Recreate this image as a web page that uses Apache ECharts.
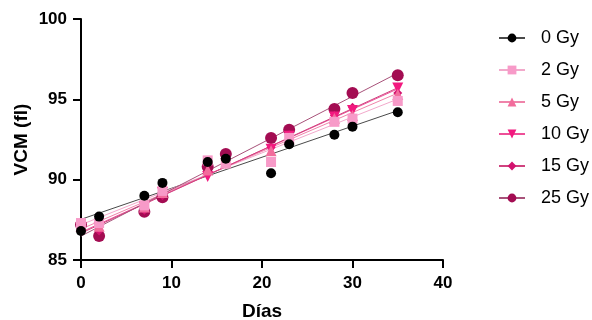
<!DOCTYPE html>
<html>
<head>
<meta charset="utf-8">
<script src="https://cdn.jsdelivr.net/npm/echarts@6/dist/echarts.min.js"></script>
<style>html,body{margin:0;padding:0;background:#fff}#c{width:592px;height:320px}</style>
</head>
<body>
<div id="c"></div>
<script>
const days = [0, 2, 7, 9, 14, 16, 21, 23, 28, 30, 35];
const seriesNames = ['0 Gy', '2 Gy', '5 Gy', '10 Gy', '15 Gy', '25 Gy'];
const gy0  = [86.8, 87.7, 89.0, 89.8, 91.1, 91.3, 90.4, 92.2, 92.8, 93.3, 94.2];
const gy2  = [87.3, 87.3, 88.4, 89.3, 91.2, 91.0, 91.1, 92.6, 93.6, 93.8, 94.9];
const gy5  = [87.1, 87.1, 88.3, 89.2, 90.6, 91.1, 91.8, 92.6, 93.8, 94.0, 95.3];
const gy10 = [87.0, 87.0, 88.3, 89.2, 90.2, 91.0, 91.9, 92.7, 93.9, 94.3, 95.7];
const gy15 = [87.0, 86.8, 88.1, 89.0, 90.4, 91.2, 92.0, 92.8, 94.0, 94.5, 95.4];
const gy25 = [87.2, 86.5, 88.0, 88.9, 90.8, 91.6, 92.6, 93.1, 94.4, 95.4, 96.5];
const xTicks = [0, 10, 20, 30, 40];
const yTicks = [85, 90, 95, 100];

const values = [gy0, gy2, gy5, gy10, gy15, gy25];
const markerColors = ['#000000', '#f79ac8', '#f26c9c', '#f2197f', '#d3136f', '#a30c52'];
const lineColors = ['#4a4a4a', '#f2a9cb', '#ef84aa', '#ee4f98', '#d0437f', '#a8527a'];
const symbols = ['circle', 'rect', 'triangle', 'path://M0,0 L10,0 L5,10 Z', 'diamond', 'circle'];
const sizes = [10, 10, 11, 11, 9, 12];

function fit(xs, ys) {
  const n = xs.length;
  let sx = 0, sy = 0, sxx = 0, sxy = 0;
  for (let i = 0; i < n; i++) { sx += xs[i]; sy += ys[i]; sxx += xs[i]*xs[i]; sxy += xs[i]*ys[i]; }
  const b = (n*sxy - sx*sy) / (n*sxx - sx*sx);
  const a = (sy - b*sx) / n;
  return [a, b];
}

const font = '"Liberation Sans", Arial, Helvetica, sans-serif';
const series = [];
for (let k = 0; k < seriesNames.length; k++) {
  const [a, b] = fit(days, values[k]);
  const x0 = days[0], x1 = days[days.length - 1];
  series.push({
    name: seriesNames[k], type: 'line',
    data: [[x0, a + b*x0], [x1, a + b*x1]],
    symbol: symbols[k], symbolSize: sizes[k], showSymbol: false,
    itemStyle: { color: markerColors[k] },
    lineStyle: { color: lineColors[k], width: 1 },
    z: 2, silent: true, animation: false
  });
}
for (let k = seriesNames.length - 1; k >= 0; k--) {
  series.push({
    name: seriesNames[k] + ' pts', type: 'scatter',
    data: days.map((d, i) => [d, values[k][i]]),
    symbol: symbols[k], symbolSize: sizes[k],
    itemStyle: { color: markerColors[k], opacity: 1 },
    z: 3 + (seriesNames.length - k), animation: false
  });
}

const chart = echarts.init(document.getElementById('c'), null, { renderer: 'canvas' });
chart.setOption({
  backgroundColor: '#ffffff',
  animation: false,
  grid: { left: 81, right: 149, top: 19, bottom: 60, containLabel: false, outerBoundsMode: 'none' },
  legend: {
    data: seriesNames,
    orient: 'vertical', left: 493, top: 24,
    itemWidth: 26, itemHeight: 11, itemGap: 14,
    textStyle: { fontFamily: font, fontSize: 18, color: '#000', padding: [0, 0, 0, 11] },
    selectedMode: false
  },
  xAxis: {
    type: 'value', min: xTicks[0], max: xTicks[xTicks.length - 1], interval: 10,
    name: 'Días', nameLocation: 'middle', nameGap: 42, nameMoveOverlap: false,
    nameTextStyle: { fontFamily: font, fontSize: 19, fontWeight: 'bold', color: '#000' },
    axisLine: { show: true, lineStyle: { color: '#000', width: 2 } },
    axisTick: { show: true, length: 8, lineStyle: { color: '#000', width: 2 } },
    axisLabel: { fontFamily: font, fontSize: 17, fontWeight: 'bold', color: '#000', margin: 15 },
    splitLine: { show: false }
  },
  yAxis: {
    type: 'value', min: yTicks[0], max: yTicks[yTicks.length - 1], interval: 5,
    name: 'VCM (fl)', nameLocation: 'middle', nameGap: 50, nameMoveOverlap: false,
    nameTextStyle: { fontFamily: font, fontSize: 19, fontWeight: 'bold', color: '#000' },
    axisLine: { show: true, lineStyle: { color: '#000', width: 2 } },
    axisTick: { show: true, length: 8, lineStyle: { color: '#000', width: 2 } },
    axisLabel: { fontFamily: font, fontSize: 17, fontWeight: 'bold', color: '#000', margin: 14 },
    splitLine: { show: false }
  },
  series: series
});
</script>
</body>
</html>
